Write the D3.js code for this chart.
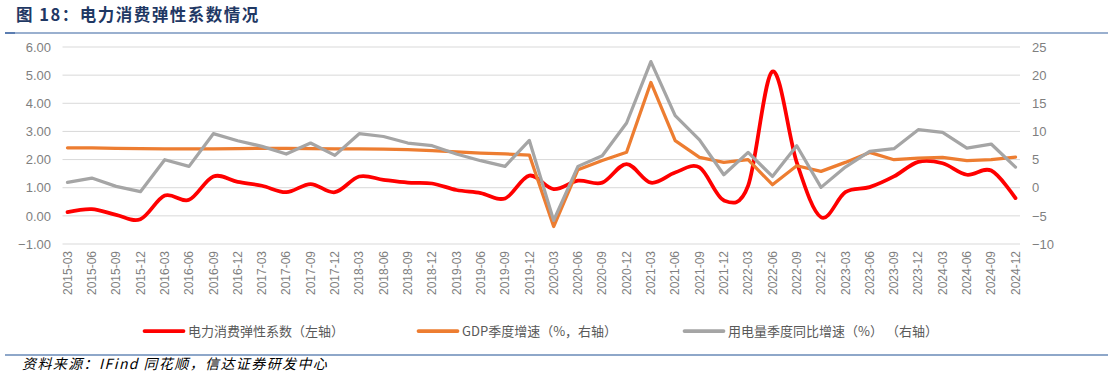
<!DOCTYPE html>
<html><head><meta charset="utf-8">
<script src="https://cdn.jsdelivr.net/npm/d3@7"></script>
<style>body{margin:0;background:#fff} svg{display:block}</style>
</head><body><svg id="c" width="1114" height="379"></svg>
<script>
const categories = ["2015-03","2015-06","2015-09","2015-12","2016-03","2016-06","2016-09","2016-12",
"2017-03","2017-06","2017-09","2017-12","2018-03","2018-06","2018-09","2018-12",
"2019-03","2019-06","2019-09","2019-12","2020-03","2020-06","2020-09","2020-12",
"2021-03","2021-06","2021-09","2021-12","2022-03","2022-06","2022-09","2022-12",
"2023-03","2023-06","2023-09","2023-12","2024-03","2024-06","2024-09","2024-12"];
const elasticity = [0.13,0.24,0.035,-0.12,0.72,0.57,1.40,1.21,1.07,0.84,1.13,0.84,1.40,1.28,1.18,1.15,0.92,0.81,0.62,1.43,
0.95,1.25,1.18,1.84,1.18,1.54,1.72,0.55,1.07,5.13,1.9,-0.05,0.84,1.02,1.40,1.92,1.87,1.46,1.61,0.63];
const gdpGrowth = [7.1,7.1,7.0,6.95,6.9,6.9,6.9,6.95,7.0,7.0,6.95,6.9,6.9,6.85,6.75,6.6,6.35,6.15,6.0,5.8,
-6.9,3.2,4.85,6.3,18.7,8.35,5.4,4.5,4.97,0.53,3.9,2.9,4.5,6.27,4.97,5.27,5.38,4.8,4.97,5.45];
const powerGrowth = [0.95,1.72,0.24,-0.71,4.97,3.79,9.6,8.35,7.35,5.98,7.94,5.75,9.6,9.1,7.94,7.46,5.98,4.8,3.79,8.4,
-5.8,3.79,5.69,11.5,22.4,12.8,8.5,2.3,6.27,2.0,7.46,0.06,3.67,6.45,6.93,10.3,9.83,7.05,7.76,3.67];
const leftTicks = [-1,0,1,2,3,4,5,6];
const rightTicks = [-10,-5,0,5,10,15,20,25];
const legendLabels = ["电力消费弹性系数（左轴）","GDP季度增速（%，右轴）","用电量季度同比增速（%） （右轴）"];

const svg = d3.select("#c");
const x = d3.scalePoint().domain(categories).range([67.5, 1015.5]);
const yL = d3.scaleLinear().domain([-1, 6]).range([244, 47]);
const yR = d3.scaleLinear().domain([-10, 25]).range([244, 47]);

// title
svg.append("text").attr("x", 16).attr("y", 21)
  .attr("font-family", "'Noto Sans CJK SC', sans-serif").attr("font-weight", 700)
  .attr("font-size", 16.5).attr("fill", "#1F3864").attr("letter-spacing", 1.5)
  .text("图 18：电力消费弹性系数情况");
svg.append("line").attr("x1", 5).attr("x2", 1108).attr("y1", 33).attr("y2", 33)
  .attr("stroke", "#9AB0CF").attr("stroke-width", 2);
svg.append("line").attr("x1", 5).attr("x2", 15).attr("y1", 33).attr("y2", 33)
  .attr("stroke", "#5B7DB1").attr("stroke-width", 2);

// grid
svg.append("g").selectAll("line").data(leftTicks).join("line")
  .attr("x1", 62.5).attr("x2", 1020).attr("y1", d => yL(d)).attr("y2", d => yL(d))
  .attr("stroke", "#D9D9D9").attr("stroke-width", 1);

// left axis
const gL = svg.append("g").attr("transform", "translate(62,0)")
  .call(d3.axisLeft(yL).tickValues(leftTicks).tickFormat(d3.format(".2f")).tickSize(0).tickPadding(11));
gL.select(".domain").remove();
gL.selectAll("text").attr("font-family", "'Liberation Sans', Arial, sans-serif").attr("font-size", 13).attr("fill", "#7F7F7F");

// right axis
const gR = svg.append("g").attr("transform", "translate(1020,0)")
  .call(d3.axisRight(yR).tickValues(rightTicks).tickSize(0).tickPadding(12));
gR.select(".domain").remove();
gR.selectAll("text").attr("font-family", "'Liberation Sans', Arial, sans-serif").attr("font-size", 13).attr("fill", "#7F7F7F");

// x labels
svg.append("g").selectAll("text").data(categories).join("text")
  .attr("transform", d => `translate(${x(d)},251) rotate(-90)`)
  .attr("text-anchor", "end").attr("dy", "0.35em")
  .attr("font-family", "'Liberation Sans', Arial, sans-serif").attr("font-size", 12).attr("fill", "#7F7F7F")
  .text(d => d);

// lines
const lineL = d3.line().x((d, i) => x(categories[i])).y(d => yL(d)).curve(d3.curveCardinal.tension(0));
const lineR = d3.line().x((d, i) => x(categories[i])).y(d => yR(d));
svg.append("path").datum(elasticity).attr("d", lineL).attr("fill", "none")
  .attr("stroke", "#FF0000").attr("stroke-width", 3.75).attr("stroke-linecap", "round").attr("stroke-linejoin", "round");
svg.append("path").datum(gdpGrowth).attr("d", lineR).attr("fill", "none")
  .attr("stroke", "#ED7D31").attr("stroke-width", 3.25).attr("stroke-linecap", "round").attr("stroke-linejoin", "round");
svg.append("path").datum(powerGrowth).attr("d", lineR).attr("fill", "none")
  .attr("stroke", "#A5A5A5").attr("stroke-width", 3.25).attr("stroke-linecap", "round").attr("stroke-linejoin", "round");

// legend
const legColors = ["#FF0000", "#ED7D31", "#A5A5A5"];
const legX = [143, 417, 683];
const lg = svg.append("g");
legendLabels.forEach((t, i) => {
  lg.append("line").attr("x1", legX[i] + 1.5).attr("x2", legX[i] + 40.5).attr("y1", 331).attr("y2", 331)
    .attr("stroke", legColors[i]).attr("stroke-width", 3.75).attr("stroke-linecap", "round");
  lg.append("text").attr("x", legX[i] + 45).attr("y", 331).attr("dy", "0.36em")
    .attr("font-family", "'Noto Sans CJK SC', sans-serif").attr("font-size", 13).attr("fill", "#595959")
    .attr("xml:space", "preserve").style("white-space", "pre")
    .text(t);
});

// bottom rule and source
svg.append("line").attr("x1", 5).attr("x2", 1108).attr("y1", 355).attr("y2", 355)
  .attr("stroke", "#8EA7C9").attr("stroke-width", 2);
svg.append("text").attr("x", 22).attr("y", 369)
  .attr("font-family", "'Noto Sans CJK SC', sans-serif").attr("font-size", 14).attr("font-style", "italic")
  .attr("letter-spacing", 1.4)
  .attr("fill", "#000").text("资料来源：IFind 同花顺，信达证券研发中心");
</script></body></html>
